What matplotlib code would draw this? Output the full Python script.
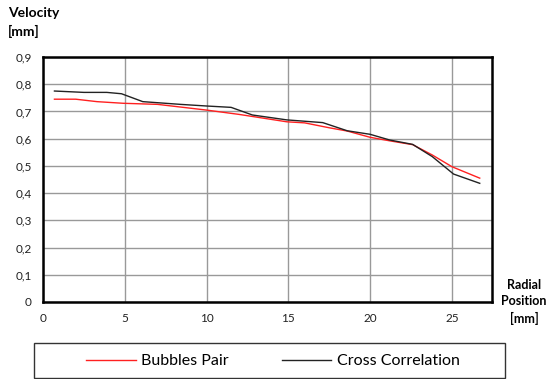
import numpy as np
import matplotlib
matplotlib.use('Agg')
import matplotlib.pyplot as plt
from matplotlib.patches import Rectangle
from matplotlib.ticker import FuncFormatter

plt.rcParams['font.family'] = ['Lato', 'DejaVu Sans']

# Bubbles Pair (red)
x_bp = [0.7, 2.0, 3.3, 4.9, 7.0, 10.0, 12.0, 14.9, 16.0, 17.5, 18.6, 20.0, 21.2, 22.6, 23.8, 25.0, 26.7]
y_bp = [0.745, 0.745, 0.736, 0.730, 0.726, 0.705, 0.689, 0.662, 0.658, 0.640, 0.628, 0.605, 0.592, 0.578, 0.540, 0.497, 0.455]

# Cross Correlation (black)
x_cc = [0.7, 2.5, 3.9, 4.8, 6.1, 8.4, 10.0, 11.5, 12.8, 14.9, 17.1, 18.6, 20.0, 21.2, 22.6, 23.8, 25.1, 26.7]
y_cc = [0.775, 0.770, 0.770, 0.765, 0.736, 0.726, 0.720, 0.715, 0.687, 0.669, 0.659, 0.629, 0.616, 0.595, 0.579, 0.534, 0.470, 0.436]

xticks = [0, 5, 10, 15, 20, 25]
yticks = [0, 0.1, 0.2, 0.3, 0.4, 0.5, 0.6, 0.7, 0.8, 0.9]

fig = plt.figure(figsize=(5.53, 3.79), dpi=100)
ax = fig.add_axes([43/553, 1 - 302/379, (492 - 43)/553, (302 - 57)/379])

ax.plot(x_bp, y_bp, color='#ff2020', linewidth=1.0, label='Bubbles Pair')
ax.plot(x_cc, y_cc, color='#222222', linewidth=1.0, label='Cross Correlation')

ax.set_xlim(0, 27.45)
ax.set_ylim(0, 0.9)
ax.set_xticks(xticks)
ax.set_yticks(yticks)
ax.yaxis.set_major_formatter(FuncFormatter(lambda v, p: '0' if v == 0 else ('%.1f' % v).replace('.', ',')))
ax.tick_params(length=0, labelsize=8.5, colors='#222222', pad=8)
ax.grid(True, color='#999999', linewidth=1.0)
ax.set_axisbelow(True)
for s in ax.spines.values():
    s.set_linewidth(1.8)
    s.set_color('black')

fig.text(8/553, 1 - 13/379, 'Velocity', fontsize=10, fontweight='bold', va='center', ha='left')
fig.text(8/553, 1 - 31/379, '[mm]', fontsize=10, fontweight='bold', va='center', ha='left')
fig.text(524/553, 1 - 302/379, 'Radial\nPosition\n[mm]', fontsize=9, fontweight='bold',
         va='center', ha='center', linespacing=1.4)

# legend box
fig.patches.append(Rectangle((34/553, 1 - 378/379), (505 - 34)/553, (378 - 343)/379,
                             transform=fig.transFigure, fill=False, edgecolor='#333333', linewidth=1.0))
fig.legend(loc='center', bbox_to_anchor=(273/553, 1 - 361/379), ncol=2, frameon=False,
           fontsize=11.5, handlelength=3.1, columnspacing=3.3, handletextpad=0.35)

fig.savefig('out.png', dpi=100)
